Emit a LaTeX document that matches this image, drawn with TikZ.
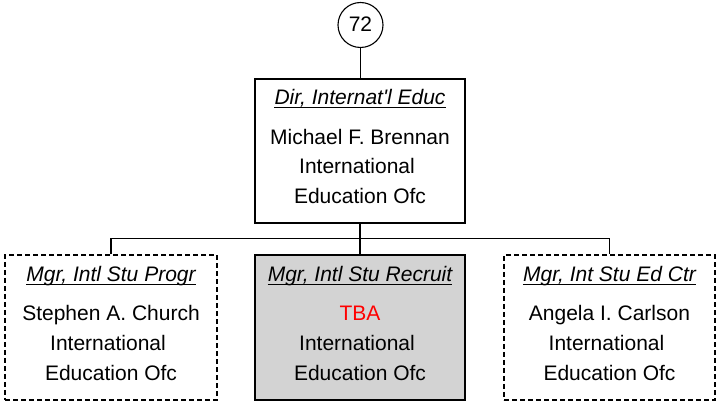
\documentclass[tikz,border=0pt]{standalone}
\usepackage{fontspec}
\setmainfont{Liberation Sans}[Ligatures=TeXOff]
\definecolor{boxgray}{RGB}{211,211,211}
\definecolor{tbared}{RGB}{255,0,0}
\begin{document}
\begin{tikzpicture}[x=1pt,y=-1pt,
  orgbox/.style={draw, line width=1.1pt, inner sep=0pt},
  vacant/.style={orgbox, dash pattern=on 5pt off 3pt},
  txt/.style={inner sep=0pt, anchor=base, font=\fontsize{21}{25}\selectfont},
  ttl/.style={txt, font=\fontsize{21}{25}\selectfont\itshape},
  conn/.style={line width=1.1pt},
  uline/.style={line width=1.3pt}]
\useasboundingbox (0,0) rectangle (716,401);
% circle
\node[draw, circle, line width=1.1pt, minimum size=45pt, inner sep=0pt] (c72) at (360.5,25) {};
\node[txt] (n72) at (360.5,32) {72};
% top box
\node[orgbox, minimum width=210pt, minimum height=144pt] (dir) at (360,151) {};
\node[ttl] (dirt) at (360,105) {Dir, Internat'l Educ};
\draw[uline] ([yshift=-2.7pt]dirt.base west) -- ([yshift=-2.7pt]dirt.base east);
\node[txt] (dir1) at (360,145) {Michael F. Brennan};
\node[txt] (dir2) at (357,174) {International};
\node[txt] (dir3) at (360,204) {Education Ofc};
% bottom boxes
\node[vacant, minimum width=212pt, minimum height=145pt] (prog) at (111,327.5) {};
\node[orgbox, fill=boxgray, minimum width=210pt, minimum height=145pt] (rec) at (360,327.5) {};
\node[vacant, minimum width=211pt, minimum height=145pt] (ctr) at (609.5,327.5) {};
% left texts
\node[ttl] (progt) at (111,282) {Mgr, Intl Stu Progr};
\draw[uline] ([yshift=-2.7pt]progt.base west) -- ([yshift=-2.7pt]progt.base east);
\node[txt] (prog1) at (111,320) {Stephen A. Church};
\node[txt] (prog2) at (108,350) {International};
\node[txt] (prog3) at (111,380) {Education Ofc};
% middle texts
\node[ttl] (rect) at (360,282) {Mgr, Intl Stu Recruit};
\draw[uline] ([yshift=-2.7pt]rect.base west) -- ([yshift=-2.7pt]rect.base east);
\node[txt, text=tbared] (rec1) at (360,320) {TBA};
\node[txt] (rec2) at (357,350) {International};
\node[txt] (rec3) at (360,380) {Education Ofc};
% right texts
\node[ttl] (ctrt) at (609.5,282) {Mgr, Int Stu Ed Ctr};
\draw[uline] ([yshift=-2.7pt]ctrt.base west) -- ([yshift=-2.7pt]ctrt.base east);
\node[txt] (ctr1) at (609.5,320) {Angela I. Carlson};
\node[txt] (ctr2) at (606.5,350) {International};
\node[txt] (ctr3) at (609.5,380) {Education Ofc};
% connectors
\draw[conn] (c72.south) -- (dir.north -| c72.south);
\draw[conn] (dir.south) -- (rec.north);
\draw[conn] (prog.north) -- ++(0,-16) -| (ctr.north);
\end{tikzpicture}
\end{document}
